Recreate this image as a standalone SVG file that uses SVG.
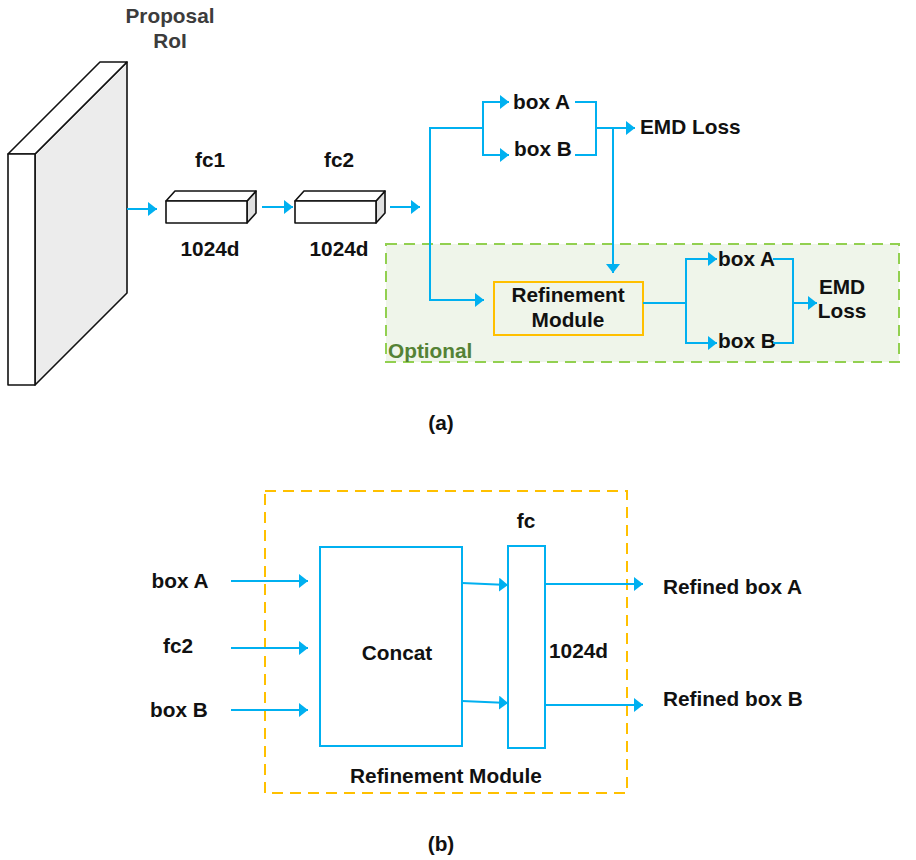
<svg xmlns="http://www.w3.org/2000/svg" width="916" height="860" viewBox="0 0 916 860">
<defs>
<marker id="ah" markerUnits="userSpaceOnUse" markerWidth="10" markerHeight="15" refX="9" refY="7" orient="auto" viewBox="0 0 10 15">
<path d="M0,0 L9,7 L0,14 z" fill="#00b0f0"/>
</marker>
<style>
.t{font-family:"Liberation Sans",Arial,sans-serif;font-weight:bold;font-size:20.8px;fill:#111}
.c{text-anchor:middle}
.ln{fill:none;stroke:#00b0f0;stroke-width:2}
.ar{fill:none;stroke:#00b0f0;stroke-width:2;marker-end:url(#ah)}
.blk{stroke:#111;stroke-width:1.6;stroke-linejoin:round}
</style>
</defs>
<rect width="916" height="860" fill="#fff"/>

<g id="optional">
<rect x="386" y="244" width="513" height="118" fill="#eff5ea" stroke="#92d050" stroke-width="2" stroke-dasharray="11,7"/>
<text class="t" x="388" y="358" style="fill:#548235">Optional</text>
</g>

<g id="proposal">
<polygon class="blk" points="35,154 127,62 127,293 35,385" fill="#ececec"/>
<polygon class="blk" points="8,154 100,62 127,62 35,154" fill="#fff"/>
<rect class="blk" x="8" y="154" width="27" height="231" fill="#fff"/>
<text class="t c" x="170" y="23" style="fill:#3c3c3c">Proposal</text>
<text class="t c" x="170" y="48" style="fill:#3c3c3c">RoI</text>
</g>

<g id="fc1">
<polygon class="blk" points="247,201 256,191 256,213 247,223" fill="#e0e0e0"/>
<polygon class="blk" points="166,201 175,191 256,191 247,201" fill="#fff"/>
<rect class="blk" x="166" y="201" width="81" height="22" fill="#fff"/>
<text class="t c" x="210" y="167">fc1</text>
<text class="t c" x="210" y="256">1024d</text>
</g>

<g id="fc2">
<polygon class="blk" points="376,201 385,191 385,213 376,223" fill="#e0e0e0"/>
<polygon class="blk" points="295,201 304,191 385,191 376,201" fill="#fff"/>
<rect class="blk" x="295" y="201" width="81" height="22" fill="#fff"/>
<text class="t c" x="339" y="167">fc2</text>
<text class="t c" x="339" y="256">1024d</text>
</g>

<g id="boxA1"><text class="t" x="513" y="109">box A</text></g>
<g id="boxB1"><text class="t" x="514" y="156">box B</text></g>
<g id="emd1"><text class="t" x="640" y="134">EMD Loss</text></g>

<g id="refine">
<rect x="494" y="282" width="149" height="53" fill="none" stroke="#ffc000" stroke-width="2"/>
<text class="t c" x="568" y="302">Refinement</text>
<text class="t c" x="568" y="327">Module</text>
</g>
<g id="boxA2"><text class="t" x="718" y="266">box A</text></g>
<g id="boxB2"><text class="t" x="718" y="348">box B</text></g>
<g id="emd2">
<text class="t c" x="842" y="294">EMD</text>
<text class="t c" x="842" y="318">Loss</text>
</g>

<text class="t c" x="441" y="430">(a)</text>

<g id="refmodule">
<rect x="265" y="491" width="362" height="302" fill="none" stroke="#ffc000" stroke-width="2" stroke-dasharray="11,7"/>
<text class="t c" x="446" y="783">Refinement Module</text>
</g>
<g id="concat">
<rect x="320" y="547" width="142" height="199" fill="none" stroke="#00b0f0" stroke-width="2"/>
<text class="t c" x="397" y="660">Concat</text>
</g>
<g id="fc">
<rect x="508" y="546" width="37" height="202" fill="none" stroke="#00b0f0" stroke-width="2"/>
<text class="t c" x="526" y="528">fc</text>
<text class="t" x="549" y="658">1024d</text>
</g>
<g id="in-boxA"><text class="t c" x="180" y="588">box A</text></g>
<g id="in-fc2"><text class="t c" x="178" y="653">fc2</text></g>
<g id="in-boxB"><text class="t c" x="179" y="717">box B</text></g>
<g id="out-A"><text class="t" x="663" y="594">Refined box A</text></g>
<g id="out-B"><text class="t" x="663" y="706">Refined box B</text></g>

<text class="t c" x="441" y="851">(b)</text>

<g id="connectors">
<path class="ar" d="M127,209 H157"/>
<path class="ar" d="M262,207 H293"/>
<path class="ar" d="M390,207 H420"/>
<path class="ar" d="M483,128 H430 V300 H484"/>
<path class="ln" d="M483,102 V155"/>
<path class="ar" d="M482,102 H509"/>
<path class="ar" d="M482,155 H509"/>
<path class="ln" d="M575,102 H596 V155 H575"/>
<path class="ar" d="M596,128 H635"/>
<path class="ar" d="M613,128 V273"/>
<path class="ln" d="M643,303 H686"/>
<path class="ln" d="M686,259 V343"/>
<path class="ar" d="M685,259 H717"/>
<path class="ar" d="M685,343 H717"/>
<path class="ln" d="M773,259 H793 V343 H773"/>
<path class="ar" d="M793,303 H817"/>
<path class="ar" d="M231,581 H308"/>
<path class="ar" d="M231,648 H308"/>
<path class="ar" d="M231,710 H308"/>
<path class="ar" d="M462,583 L508,585"/>
<path class="ar" d="M462,701 L508,703"/>
<path class="ar" d="M545,584 H643"/>
<path class="ar" d="M545,705 H643"/>
</g>
</svg>
